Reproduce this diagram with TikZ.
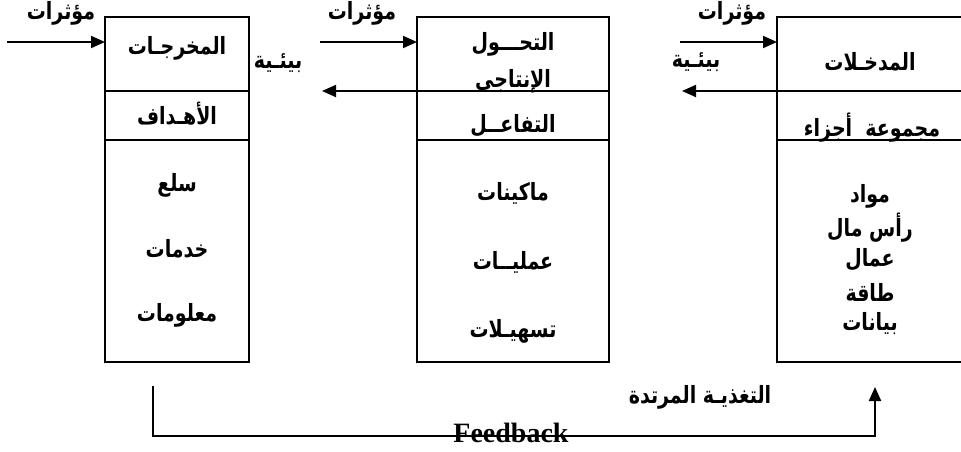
\documentclass[tikz,border=0pt]{standalone}
\usepackage{fontspec}
\setmainfont{Liberation Serif}
\newfontfamily\arabicfont[Script=Arabic]{DejaVu Sans Bold}
\TeXXeTstate=1
\usepackage{tikz}
\usetikzlibrary{arrows.meta,positioning}
\tikzset{every picture/.style={line width=2pt}}
\tikzset{
  cell/.style={draw, anchor=north west, inner sep=0pt, outer sep=0pt},
  ar/.style={font=\arabicfont\fontsize{19}{22}\selectfont, inner sep=0pt},
  arr/.style={-{Triangle[length=14pt,width=12pt]}},
}
\newcommand{\rl}[1]{\scalebox{1}[1.25]{\beginR #1\endR}}

\begin{document}
\begin{tikzpicture}[x=1pt,y=-1pt]
\clip (0,0) rectangle (961,452);
% outputs box
\node[cell, minimum width=144pt, minimum height=74pt] (out1) at (105,17) {};
\node[cell, minimum width=144pt, minimum height=49pt] (out2) at (105,91) {};
\node[cell, minimum width=144pt, minimum height=222pt] (out3) at (105,140) {};
\node[ar] (o1) at (177,48) {\rl{المخرجـات}};
\node[ar] (o2) at (177,114) {\rl{الأهـداف}};
\node[ar] (o3) at (177,185) {\rl{سلع}};
\node[ar] (o4) at (177,249) {\rl{خدمات}};
\node[ar] (o5) at (177,315) {\rl{معلومات}};
%
% transformation box
\node[cell, minimum width=192pt, minimum height=74pt] (tr1) at (417,17) {};
\node[cell, minimum width=192pt, minimum height=49pt] (tr2) at (417,91) {};
\node[cell, minimum width=192pt, minimum height=222pt] (tr3) at (417,140) {};
\node[ar] (p1) at (513,44) {\rl{التحـــول}};
\node[ar] (p2) at (513,81) {\rl{الإنتاجى}};
\node[ar] (p3) at (513,126) {\rl{التفاعــل}};
\node[ar] (p4) at (513,193) {\rl{ماكينات}};
\node[ar] (p5) at (513,262) {\rl{عمليــات}};
\node[ar] (p6) at (513,331) {\rl{تسهيـلات}};
%
% inputs box
\node[cell, minimum width=213pt, minimum height=74pt] (in1) at (777,17) {};
\node[cell, minimum width=213pt, minimum height=49pt] (in2) at (777,91) {};
\node[cell, minimum width=213pt, minimum height=222pt] (in3) at (777,140) {};
\node[ar] (i1) at (870,62) {\rl{المدخـلات}};
\node[ar] (i2) at (872,128) {\rl{مجموعة\ \ أجزاء}};
\node[ar] (i3) at (870,196) {\rl{مواد}};
\node[ar] (i4) at (870,228) {\rl{رأس مال}};
\node[ar] (i5) at (870,260) {\rl{عمال}};
\node[ar] (i6) at (870,292) {\rl{طاقة}};
\node[ar] (i7) at (870,324) {\rl{بيانات}};
%
% environment arrows
\node[ar] (e1) at (61,13) {\rl{مؤثرات}};
\node[ar] (e2) at (362,13) {\rl{مؤثرات}};
\node[ar] (e3) at (732,13) {\rl{مؤثرات}};
\node[ar] (v1) at (278,63) {\rl{بيئـية}};
\node[ar] (v2) at (696,62) {\rl{بيئـية}};
\coordinate (s1) at (7,42);
\coordinate (s2) at (320,42);
\coordinate (s3) at (680,42);
\coordinate (r2) at (322,91);
\coordinate (r3) at (682,91);
\draw[arr] (s1) -- (s1 -| out1.west);
\draw[arr] (s2) -- (s2 -| tr1.west);
\draw[arr] (s3) -- (s3 -| in1.west);
\draw[arr] (tr1.south east) -- (r2);
\draw[arr] (in1.south east) -- (r3);
%
% feedback
\coordinate (f0) at (153,386);
\coordinate (fl) at (514,436);
\coordinate (f1) at (875,387);
\draw[arr] (f0) |- (fl) -| (f1);
\node[anchor=base, inner sep=0pt, font=\bfseries\fontsize{28}{32}\selectfont] (fb) at (511,442) {Feedback};
\node[ar] (fa) at (700,397) {\rl{التغذيـة المرتدة}};
\end{tikzpicture}
\end{document}
